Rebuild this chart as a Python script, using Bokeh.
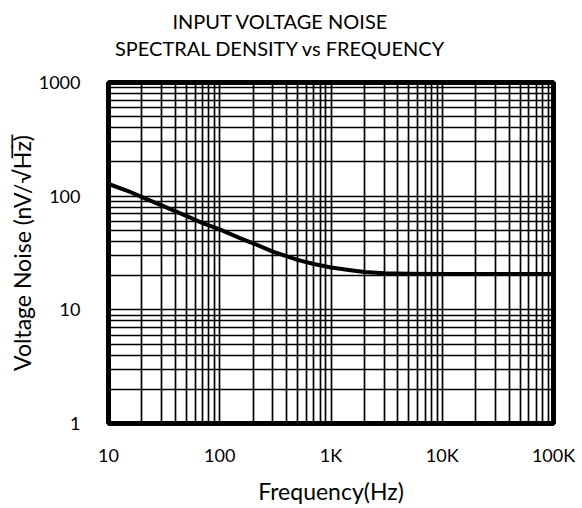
from bokeh.plotting import figure
from bokeh.models import FixedTicker
from bokeh.layouts import column
from bokeh.core.properties import value
from bokeh.embed import file_html
from bokeh.resources import INLINE

# Data
freq_hz = [10, 15, 20, 30, 50, 70, 100, 150, 200, 300, 500, 700, 1000, 1500,
           2000, 3000, 5000, 10000, 100000]
noise_nv = [128, 111, 98, 83, 67, 58, 51, 43, 38.5, 32.5, 27.5, 25.3, 23.6, 22.3,
            21.5, 21.0, 20.8, 20.7, 20.7]

x_ticks = [10, 100, 1000, 10000, 100000]
x_tick_labels = ["10", "100", "1K", "10K", "100K"]
y_ticks = [1, 10, 100, 1000]
y_tick_labels = ["1", "10", "100", "1000"]
title_lines = ["INPUT VOLTAGE NOISE", "SPECTRAL DENSITY vs FREQUENCY"]

FONT = "Lato"
W = 582
TITLE_H = 62
LEFT, RIGHT = 108, 29

x_minor = [m * 10 ** e for e in range(1, 5) for m in range(2, 10)]
y_minor = [m * 10 ** e for e in range(0, 3) for m in range(2, 10)]

# --- title strip; its frame is aligned with the main frame by the column,
# so its x range is expressed in page pixels ---
pt = figure(width=W, height=TITLE_H, x_range=(LEFT, W - RIGHT), y_range=(0, TITLE_H),
            x_axis_location=None, y_axis_location=None,
            output_backend="svg", toolbar_location=None, min_border=0)
pt.title = None
pt.grid.visible = False
pt.outline_line_color = None
title_y = [TITLE_H - 20, TITLE_H - 47]
pt.text(x=[280, 280], y=title_y, text=title_lines,
        text_align="center", text_baseline="middle",
        text_font=value(FONT), text_font_size="20px", text_color="black")

# --- main chart ---
p = figure(
    width=W, height=508 - TITLE_H,
    x_axis_type="log", y_axis_type="log",
    x_range=(10, 100000), y_range=(1, 1000),
    output_backend="svg", toolbar_location=None,
    min_border_left=LEFT, min_border_right=RIGHT, min_border_bottom=85,
    min_border_top=82 - TITLE_H,
)
p.title = None

p.line(freq_hz, noise_nv, line_color="black", line_width=4, line_join="round")

p.xaxis.ticker = FixedTicker(ticks=x_ticks, minor_ticks=x_minor)
p.yaxis.ticker = FixedTicker(ticks=y_ticks, minor_ticks=y_minor)
p.xaxis.major_label_overrides = {t: l for t, l in zip(x_ticks, x_tick_labels)}
p.yaxis.major_label_overrides = {t: l for t, l in zip(y_ticks, y_tick_labels)}

for ax in (p.xaxis, p.yaxis):
    ax.axis_line_color = None
    ax.major_tick_line_color = None
    ax.minor_tick_line_color = None
    ax.major_label_text_font = FONT
    ax.major_label_text_font_size = "18px"
    ax.major_label_text_color = "black"
    ax.axis_label_text_font = FONT
    ax.axis_label_text_font_size = "23px"
    ax.axis_label_text_font_style = "normal"
    ax.axis_label_text_color = "black"

p.xaxis.major_label_standoff = 14
p.yaxis.major_label_standoff = 22
p.xaxis.axis_label = "Frequency(Hz)"
p.yaxis.axis_label = "Voltage Noise (nV/\u221aH\u0305z\u0305)"
p.xaxis.axis_label_standoff = 8
p.yaxis.axis_label_standoff = 0

for g in (p.xgrid, p.ygrid):
    g.grid_line_color = "black"
    g.grid_line_width = 1.7
    g.grid_line_alpha = 1
    g.minor_grid_line_color = "black"
    g.minor_grid_line_width = 1.7

p.outline_line_color = "black"
p.outline_line_width = 5
p.outline_line_alpha = 1

layout = column(pt, p, spacing=0)
open("out.html", "w").write(file_html(layout, INLINE))
